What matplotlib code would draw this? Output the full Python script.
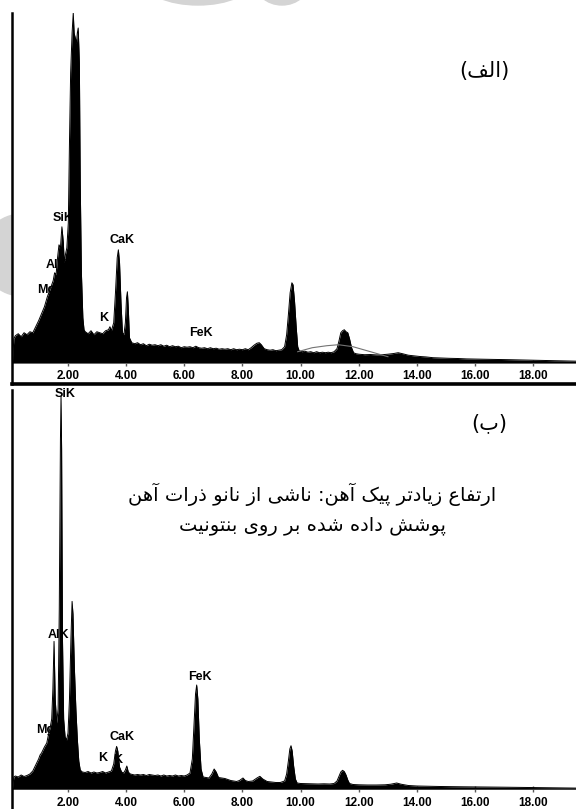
import matplotlib.pyplot as plt
from matplotlib.patches import Ellipse

# EDS spectrum (a): energy in keV and counts
top_kev = [0.10, 0.15, 0.20, 0.30, 0.40, 0.50, 0.60, 0.70, 0.80, 0.90,
           1.00, 1.10, 1.20, 1.30, 1.40, 1.50, 1.55, 1.60, 1.65, 1.70,
           1.75, 1.80, 1.85, 1.88, 1.92, 1.97, 2.02, 2.06, 2.10, 2.15,
           2.19, 2.22, 2.26, 2.30, 2.33, 2.36, 2.40, 2.43, 2.47, 2.52,
           2.56, 2.60, 2.70, 2.80, 2.90, 3.00, 3.10, 3.20, 3.30, 3.40,
           3.45, 3.50, 3.58, 3.64, 3.70, 3.74, 3.78, 3.83, 3.88, 3.93,
           3.98, 4.02, 4.05, 4.08, 4.12, 4.20, 4.30, 4.40, 4.50, 4.60,
           4.70, 4.80, 4.90, 5.00, 5.10, 5.20, 5.30, 5.40, 5.50, 5.60,
           5.70, 5.80, 5.90, 6.00, 6.10, 6.20, 6.30, 6.40, 6.50, 6.60,
           6.70, 6.80, 6.90, 7.00, 7.10, 7.20, 7.30, 7.40, 7.50, 7.60,
           7.70, 7.80, 7.90, 8.00, 8.10, 8.20, 8.30, 8.40, 8.50, 8.58,
           8.65, 8.75, 8.85, 8.95, 9.05, 9.15, 9.25, 9.35, 9.45, 9.52,
           9.58, 9.64, 9.70, 9.74, 9.79, 9.85, 9.90, 9.95, 10.05, 10.15,
           10.25, 10.35, 10.45, 10.55, 10.65, 10.75, 10.85, 10.95, 11.05, 11.15,
           11.25, 11.32, 11.38, 11.44, 11.50, 11.56, 11.62, 11.68, 11.75, 11.82,
           11.90, 12.00, 12.20, 12.40, 12.60, 12.80, 13.00, 13.20, 13.35, 13.50,
           13.70, 13.90, 14.10, 14.30, 14.55, 14.80, 15.10, 15.40, 15.70, 16.00,
           16.30, 16.60, 16.90, 17.20, 17.50, 17.80, 18.10, 18.40, 18.70, 19.00,
           19.20, 19.50]
top_counts = [0, 240, 270, 290, 260, 300, 280, 310, 300, 360,
              420, 490, 560, 660, 740, 820, 900, 880, 1050, 1180,
              1150, 1360, 1200, 1000, 1080, 1150, 1400, 2200, 2900, 3300,
              3500, 3300, 3250, 3200, 3300, 3350, 3000, 1800, 900, 450,
              330, 310, 290, 320, 280, 310, 300, 290, 320, 330,
              360, 320, 400, 700, 1050, 1130, 1000, 600, 300, 280,
              400, 650, 710, 550, 250, 200, 190, 200, 180, 190,
              170, 185, 175, 180, 170, 180, 165, 175, 160, 170,
              160, 165, 150, 160, 155, 160, 150, 165, 150, 145,
              150, 140, 150, 140, 145, 135, 140, 135, 140, 130,
              140, 130, 135, 130, 140, 130, 150, 175, 195, 200,
              180, 140, 130, 125, 130, 120, 125, 130, 160, 280,
              480, 700, 800, 780, 620, 350, 160, 120, 110, 115,
              105, 110, 100, 110, 100, 105, 100, 105, 100, 110,
              140, 220, 300, 320, 330, 310, 300, 240, 150, 100,
              90, 85, 80, 82, 78, 80, 85, 92, 100, 90,
              75, 68, 62, 58, 50, 47, 44, 42, 38, 36,
              35, 33, 32, 30, 28, 26, 25, 22, 20, 19,
              17, 15]

# fitted background envelope drawn over spectrum (a)
top_fit_kev = [9.90, 10.40, 10.90, 11.30, 11.80, 12.40, 13.00]
top_fit_counts = [110, 150, 170, 180, 160, 110, 60]

# EDS spectrum (b): energy in keV and counts
bot_kev = [0.10, 0.15, 0.20, 0.30, 0.40, 0.50, 0.60, 0.70, 0.80, 0.90,
           1.00, 1.05, 1.10, 1.20, 1.28, 1.35, 1.40, 1.45, 1.49, 1.53,
           1.57, 1.62, 1.67, 1.71, 1.75, 1.77, 1.79, 1.82, 1.86, 1.91,
           1.96, 2.01, 2.06, 2.11, 2.15, 2.18, 2.23, 2.28, 2.33, 2.38,
           2.43, 2.50, 2.60, 2.70, 2.80, 2.90, 3.00, 3.10, 3.20, 3.30,
           3.40, 3.50, 3.58, 3.64, 3.68, 3.72, 3.78, 3.85, 3.92, 3.98,
           4.03, 4.08, 4.15, 4.30, 4.40, 4.50, 4.60, 4.70, 4.80, 4.90,
           5.00, 5.10, 5.20, 5.30, 5.40, 5.50, 5.60, 5.70, 5.80, 5.90,
           6.00, 6.10, 6.20, 6.28, 6.34, 6.39, 6.43, 6.47, 6.52, 6.58,
           6.65, 6.75, 6.85, 6.95, 7.03, 7.10, 7.18, 7.30, 7.40, 7.50,
           7.60, 7.70, 7.80, 7.90, 8.02, 8.10, 8.20, 8.35, 8.50, 8.60,
           8.70, 8.85, 9.00, 9.15, 9.30, 9.45, 9.52, 9.58, 9.63, 9.67,
           9.71, 9.76, 9.82, 9.88, 10.00, 10.20, 10.40, 10.60, 10.80, 11.00,
           11.15, 11.25, 11.32, 11.38, 11.44, 11.50, 11.56, 11.62, 11.68, 11.80,
           12.00, 12.30, 12.60, 12.90, 13.10, 13.30, 13.45, 13.70, 14.00, 14.40,
           14.80, 15.20, 15.60, 16.00, 16.50, 17.00, 17.50, 18.00, 18.50, 19.00,
           19.50]
bot_counts = [0, 120, 130, 120, 140, 125, 135, 150, 180, 240,
              300, 340, 360, 420, 460, 560, 620, 700, 1000, 1476,
              900, 660, 800, 1800, 3500, 3930, 3400, 1500, 700, 520,
              490, 560, 900, 1500, 1876, 1750, 1200, 800, 500, 280,
              190, 170, 165, 175, 160, 170, 160, 165, 175, 160,
              170, 180, 250, 380, 426, 380, 220, 170, 160, 190,
              230, 170, 150, 140, 145, 140, 145, 135, 145, 140,
              135, 140, 130, 140, 130, 135, 130, 140, 130, 135,
              130, 140, 160, 300, 650, 950, 1040, 900, 500, 200,
              120, 115, 110, 150, 200, 170, 115, 110, 105, 95,
              85, 80, 75, 85, 110, 85, 75, 80, 110, 127,
              100, 75, 70, 65, 65, 80, 150, 280, 400, 433,
              380, 230, 100, 60, 55, 53, 52, 50, 52, 50,
              55, 80, 130, 170, 187, 175, 140, 90, 55, 45,
              42, 40, 40, 42, 48, 60, 48, 35, 30, 27,
              25, 23, 22, 21, 20, 18, 16, 14, 12, 10,
              9]

tick_kev = [2, 4, 6, 8, 10, 12, 14, 16, 18]
tick_labels = ['2.00', '4.00', '6.00', '8.00', '10.00',
               '12.00', '14.00', '16.00', '18.00']

top_lines = ['SiK', 'AlK', 'MgK', 'K', 'CaK', 'FeK']
bot_lines = ['SiK', 'AlK', 'MgK', 'CaK', 'K', 'K', 'FeK']

# label anchors (keV, counts, alignment)
top_line_pos = [(1.49, 1450, 'left'), (1.25, 980, 'left'), (0.95, 730, 'left'),
                (3.25, 450, 'center'), (3.87, 1230, 'center'), (6.58, 300, 'center')]
bot_line_pos = [(1.91, 3950, 'center'), (1.67, 1540, 'center'), (0.91, 590, 'left'),
                (3.87, 520, 'center'), (3.21, 310, 'center'), (3.73, 290, 'center'),
                (6.55, 1120, 'center')]

title_a = '(الف)'
title_b = '(ب)'
note_b = ['ارتفاع زیادتر پیک آهن: ناشی از نانو ذرات آهن',
          'پوشش داده شده بر روی بنتونیت']

# contextual forms: isolated, final, initial, medial
FORMS = {
    'ا': ('\uFE8D', '\uFE8E'), 'آ': ('\uFE81', '\uFE82'),
    'د': ('\uFEA9', '\uFEAA'), 'ذ': ('\uFEAB', '\uFEAC'),
    'ر': ('\uFEAD', '\uFEAE'), 'ز': ('\uFEAF', '\uFEB0'),
    'و': ('\uFEED', '\uFEEE'),
    'ب': ('\uFE8F', '\uFE90', '\uFE91', '\uFE92'),
    'پ': ('\uFB56', '\uFB57', '\uFB58', '\uFB59'),
    'ت': ('\uFE95', '\uFE96', '\uFE97', '\uFE98'),
    'ش': ('\uFEB5', '\uFEB6', '\uFEB7', '\uFEB8'),
    'ع': ('\uFEC9', '\uFECA', '\uFECB', '\uFECC'),
    'ف': ('\uFED1', '\uFED2', '\uFED3', '\uFED4'),
    'ک': ('\uFB8E', '\uFB8F', '\uFB90', '\uFB91'),
    'ل': ('\uFEDD', '\uFEDE', '\uFEDF', '\uFEE0'),
    'ن': ('\uFEE5', '\uFEE6', '\uFEE7', '\uFEE8'),
    'ه': ('\uFEE9', '\uFEEA', '\uFEEB', '\uFEEC'),
    'ی': ('\uFBFC', '\uFBFD', '\uFBFE', '\uFBFF'),
}
MIRROR = {'(': ')', ')': '('}


def farsi(text):
    out = []
    for i, ch in enumerate(text):
        if ch not in FORMS:
            out.append(MIRROR.get(ch, ch))
            continue
        prev = text[i - 1] if i > 0 else ''
        nxt = text[i + 1] if i + 1 < len(text) else ''
        join_prev = prev in FORMS and len(FORMS[prev]) == 4
        join_next = len(FORMS[ch]) == 4 and nxt in FORMS
        f = FORMS[ch]
        if join_prev and join_next:
            out.append(f[3])
        elif join_prev:
            out.append(f[1])
        elif join_next:
            out.append(f[2])
        else:
            out.append(f[0])
    return ''.join(reversed(out))


plt.rcParams['font.family'] = ['Liberation Sans', 'DejaVu Sans']

W, H = 576, 809
fig = plt.figure(figsize=(W / 100, H / 100), dpi=100)


def px(x, y):
    return x / W, 1 - y / H


# faint watermark, sits underneath the white axes
for (cx, cy), w, h in [((22, 255), 82, 82), ((198, -20), 110, 50), ((282, -20), 56, 50)]:
    fig.patches.append(Ellipse(px(cx, cy), w / W, h / H, transform=fig.transFigure,
                               color='#d4d4d4', zorder=-1))


def spectrum(rect, kev, counts, ytop, base_frac, bottom_line):
    ax = fig.add_axes(rect)
    ax.set_facecolor('white')
    ymin = -base_frac * ytop / (1 - base_frac)
    ax.fill_between(kev, 0, counts, color='black', lw=0, zorder=3)
    ax.plot(kev, counts, color='black', lw=0.7, zorder=3)
    ax.set_xlim(0.086, 19.46)
    ax.set_ylim(ymin, ytop)
    ax.set_xticks([])
    ax.set_yticks([])
    ax.spines['top'].set_visible(False)
    ax.spines['right'].set_visible(False)
    ax.spines['left'].set_linewidth(1.8)
    ax.spines['bottom'].set_linewidth(2.6 if bottom_line else 0)
    ax.axhline(0, color='0.5', lw=1.4, zorder=2)
    sec = ax.secondary_xaxis(base_frac)
    sec.set_xticks(tick_kev, tick_labels)
    sec.spines['bottom'].set_visible(False)
    sec.tick_params(direction='inout', length=5, width=1, color='0.35',
                    pad=3, labelsize=8.5)
    for lbl in sec.get_xticklabels():
        lbl.set_fontweight('bold')
    return ax


# panel (a): frame from y=13 to 384 px, baseline at 362.7 px
ax_a = spectrum([12 / W, (H - 384) / H, 1 - 12 / W, 371 / H],
                top_kev, top_counts, 3500, 21.3 / 371, True)
ax_a.plot(top_fit_kev, top_fit_counts, color='0.45', lw=0.8, zorder=4)
for name, (e, c, ha) in zip(top_lines, top_line_pos):
    ax_a.text(e, c, name, ha=ha, va='center', fontsize=9, fontweight='bold', zorder=1)

# panel (b): frame from y=390 px downwards, baseline at 789 px
ax_b = spectrum([12 / W, (H - 815) / H, 1 - 12 / W, 425 / H],
                bot_kev, bot_counts, 3990, 26 / 425, False)
for name, (e, c, ha) in zip(bot_lines, bot_line_pos):
    ax_b.text(e, c, name, ha=ha, va='center', fontsize=9, fontweight='bold', zorder=1)

fig.text(*px(484, 71), farsi(title_a), ha='center', va='center',
         fontsize=15, family='DejaVu Sans')
fig.text(*px(489, 423), farsi(title_b), ha='center', va='center',
         fontsize=15, family='DejaVu Sans')
fig.text(*px(312, 494), farsi(note_b[0]), ha='center', va='center',
         fontsize=14, family='DejaVu Sans')
fig.text(*px(312, 527), farsi(note_b[1]), ha='center', va='center',
         fontsize=14, family='DejaVu Sans')

fig.savefig('out.png', dpi=100)
